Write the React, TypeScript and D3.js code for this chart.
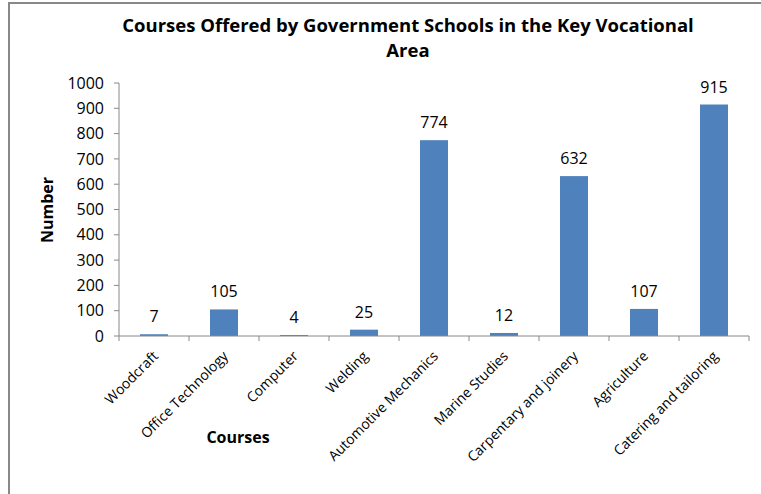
import React from "react";
import * as d3 from "d3";

const categories = [
  "Woodcraft",
  "Office Technology",
  "Computer",
  "Welding",
  "Automotive Mechanics",
  "Marine Studies",
  "Carpentary and joinery",
  "Agriculture",
  "Catering and tailoring",
];
const values = [7, 105, 4, 25, 774, 12, 632, 107, 915];
const yTicks = [0, 100, 200, 300, 400, 500, 600, 700, 800, 900, 1000];
const titleLines = ["Courses Offered by Government Schools in the Key Vocational", "Area"];
const xTitle = "Courses";
const yTitle = "Number";

const W = 761;
const H = 494;
const FONT = "'Open Sans', Lato, sans-serif";

export default function App() {
  const x0 = 119, x1 = 749, yTop = 83, yBot = 336;
  const xb = d3.scaleBand<string>().domain(categories).range([x0, x1]);
  const y = d3.scaleLinear().domain([0, 1000]).range([yBot, yTop]);
  const bw = 28;
  return (
    <svg width={W} height={H} style={{ position: "absolute", left: 0, top: 0, fontFamily: FONT }}>
      <rect x={0} y={0} width={W} height={H} fill="#fff" />
      <path d={`M9,${H} L9,3 L${W},3`} fill="none" stroke="#888" strokeWidth={2} />
      {titleLines.map((t, i) => (
        <text key={i} x={408} y={32 + i * 25} textAnchor="middle" fontSize={18.5} fontWeight="bold" fill="#000">{t}</text>
      ))}
      {/* y axis */}
      <line x1={x0} x2={x0} y1={yTop} y2={yBot} stroke="#888" />
      {yTicks.map((t) => (
        <g key={t}>
          <line x1={x0 - 5} x2={x0} y1={y(t)} y2={y(t)} stroke="#888" />
          <text x={104} y={y(t)} dy="0.35em" textAnchor="end" fontSize={16} fill="#000">{t}</text>
        </g>
      ))}
      {/* bars */}
      {categories.map((c, i) => {
        const cx = xb(c)! + xb.bandwidth() / 2;
        return (
          <g key={c}>
            <rect x={cx - bw / 2} y={y(values[i])} width={bw} height={yBot - y(values[i])} fill="#4f81bd" />
            <text x={cx} y={y(values[i]) - 12} textAnchor="middle" fontSize={16} fill="#000">{values[i]}</text>
          </g>
        );
      })}
      {/* x axis */}
      <line x1={x0} x2={x1} y1={yBot} y2={yBot} stroke="#888" />
      {d3.range(categories.length + 1).map((i) => (
        <line key={i} x1={x0 + i * xb.step()} x2={x0 + i * xb.step()} y1={yBot} y2={yBot + 5} stroke="#888" />
      ))}
      {categories.map((c) => {
        const cx = xb(c)! + xb.bandwidth() / 2;
        return (
          <text key={c} transform={`translate(${cx + 5},${yBot + 21}) rotate(-45)`} textAnchor="end" fontSize={14} fill="#000">{c}</text>
        );
      })}
      <text x={238} y={443} textAnchor="middle" fontSize={16} fontWeight="bold" fill="#000">{xTitle}</text>
      <text transform={`translate(53,210) rotate(-90)`} textAnchor="middle" fontSize={16} fontWeight="bold" fill="#000">{yTitle}</text>
    </svg>
  );
}
